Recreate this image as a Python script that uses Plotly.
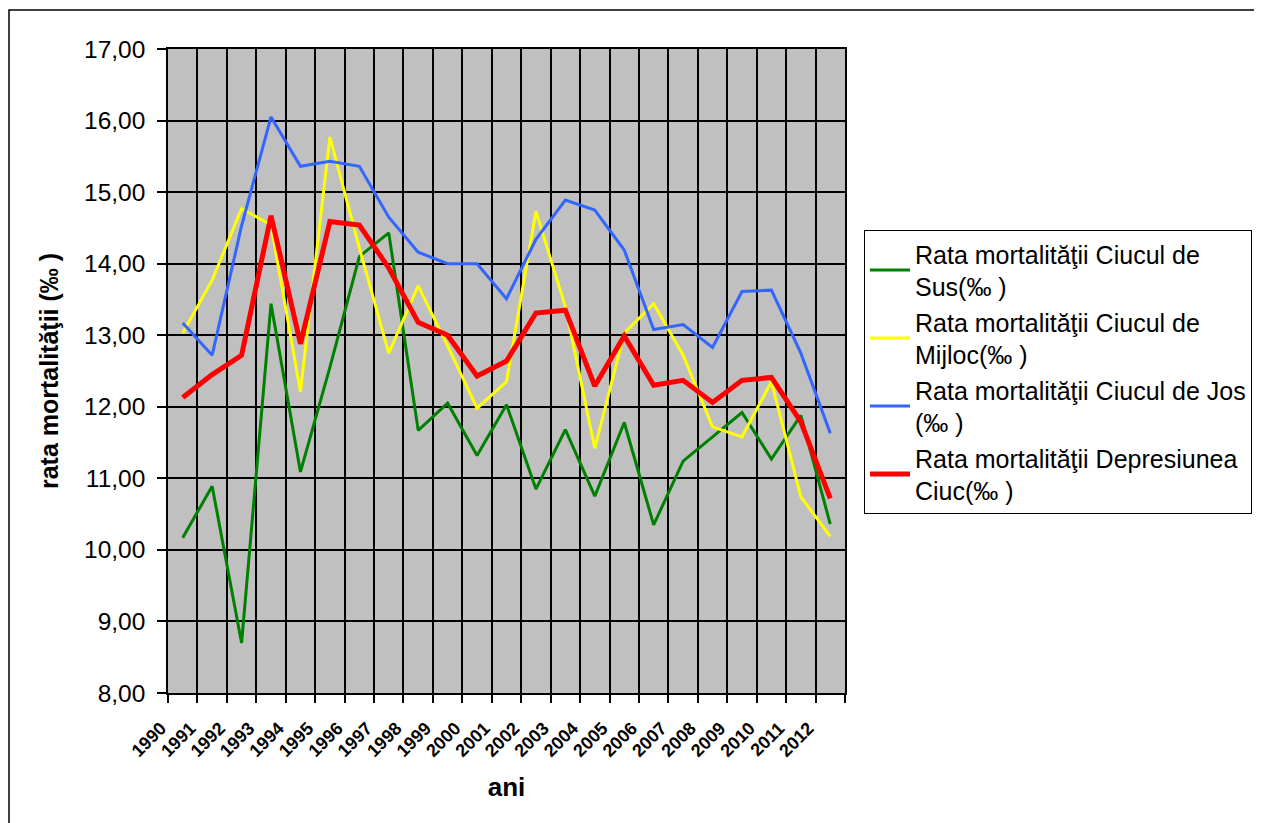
import plotly.graph_objects as go

years = list(range(1990, 2013))
tick_labels = [str(y) for y in years]

sus = [10.17, 10.89, 8.70, 13.44, 11.09, 12.55, 14.10, 14.43, 11.67, 12.05, 11.32, 12.03,
       10.85, 11.68, 10.75, 11.78, 10.35, 11.24, 11.58, 11.92, 11.27, 11.88, 10.36]
mijloc = [13.03, 13.77, 14.77, 14.54, 12.21, 15.77, 14.22, 12.75, 13.69, 12.85, 11.98, 12.35,
          14.73, 13.40, 11.42, 13.03, 13.44, 12.72, 11.72, 11.58, 12.35, 10.74, 10.19]
jos = [13.17, 12.72, 14.53, 16.05, 15.36, 15.43, 15.36, 14.65, 14.16, 14.00, 14.00, 13.51,
       14.34, 14.89, 14.75, 14.19, 13.08, 13.15, 12.83, 13.61, 13.63, 12.75, 11.63]
depresiune = [12.13, 12.45, 12.72, 14.67, 12.88, 14.59, 14.54, 13.94, 13.18, 13.00, 12.43, 12.64,
              13.31, 13.35, 12.29, 12.99, 12.30, 12.37, 12.06, 12.37, 12.41, 11.79, 10.72]

series_names = [
    "Rata mortalităţii Ciucul de<br>Sus(‰ )",
    "Rata mortalităţii Ciucul de<br>Mijloc(‰ )",
    "Rata mortalităţii Ciucul de Jos<br>(‰ )",
    "Rata mortalităţii Depresiunea<br>Ciuc(‰ )",
]
series_values = [sus, mijloc, jos, depresiune]
series_colors = ["#008000", "#FFFF00", "#3366FF", "#FF0000"]
series_widths = [3, 3, 3, 5]

FONT = "Liberation Sans, Arial, sans-serif"

fig = go.Figure()
for i, (name, vals, col, w) in enumerate(zip(series_names, series_values, series_colors, series_widths)):
    fig.add_trace(go.Scatter(x=years, y=vals, mode="lines", name=name, legendgroup=f"g{i}",
                             line=dict(color=col, width=w)))

# category boundaries (labels sit on boundaries as in the original)
bounds = [y - 0.5 for y in years] + [years[-1] + 0.5]
btext = tick_labels + [""]

# page has an 8px body margin, so figure coords = page coords - 8
OFF = 8
W, H = 1254, 815
L, T = 168 - OFF, 49 - OFF
R = W - (845 - OFF)
B = H - (693 - OFF)
pw, ph = W - L - R, H - T - B

def px(x):
    return (x - OFF - L) / pw

def py(y):
    return (H - B - (y - OFF)) / ph

fig.update_layout(
    width=W, height=H,
    margin=dict(l=L, r=R, t=T, b=B, autoexpand=False),
    paper_bgcolor="white",
    plot_bgcolor="#C0C0C0",
    separators=",.",
    font=dict(family=FONT, color="black", size=22),
    showlegend=True,
    legend=dict(
        x=px(864), y=py(230), xanchor="left", yanchor="top",
        bgcolor="white", bordercolor="black", borderwidth=1,
        font=dict(family=FONT, size=25, color="black"),
        tracegroupgap=0, itemwidth=40,
    ),
    xaxis=dict(
        range=[years[0] - 0.5, years[-1] + 0.5],
        tickmode="array", tickvals=bounds, ticktext=btext,
        tickangle=-45,
        tickfont=dict(family=FONT, size=18, color="black", weight="bold"),
        ticks="outside", ticklen=8, tickcolor="black", tickwidth=1.5,
        ticklabelstandoff=8, ticklabelshift=-7,
        showgrid=True, gridcolor="black", gridwidth=1.5,
        showline=True, linecolor="black", linewidth=1.5, mirror=True,
        zeroline=False,
        title=dict(text="ani", font=dict(family=FONT, size=26, color="black", weight="bold"),
                   standoff=18),
    ),
    yaxis=dict(
        range=[8, 17], tickmode="linear", tick0=8, dtick=1, tickformat=".2f",
        tickfont=dict(family=FONT, size=24.5, color="black"),
        ticks="outside", ticklen=9, tickcolor="black", tickwidth=1.5,
        ticklabelstandoff=7,
        showgrid=True, gridcolor="black", gridwidth=1.5,
        showline=True, linecolor="black", linewidth=1.5, mirror=True,
        zeroline=False,
        title=dict(text="rata mortalităţii (‰ )",
                   font=dict(family=FONT, size=25, color="black", weight="bold"),
                   standoff=18),
    ),
    shapes=[dict(type="rect", xref="paper", yref="paper",
                 x0=px(9), x1=px(1275), y0=py(835), y1=py(10),
                 line=dict(color="black", width=1.5), fillcolor="rgba(0,0,0,0)",
                 layer="below")],
)

fig.write_html("out.html")
